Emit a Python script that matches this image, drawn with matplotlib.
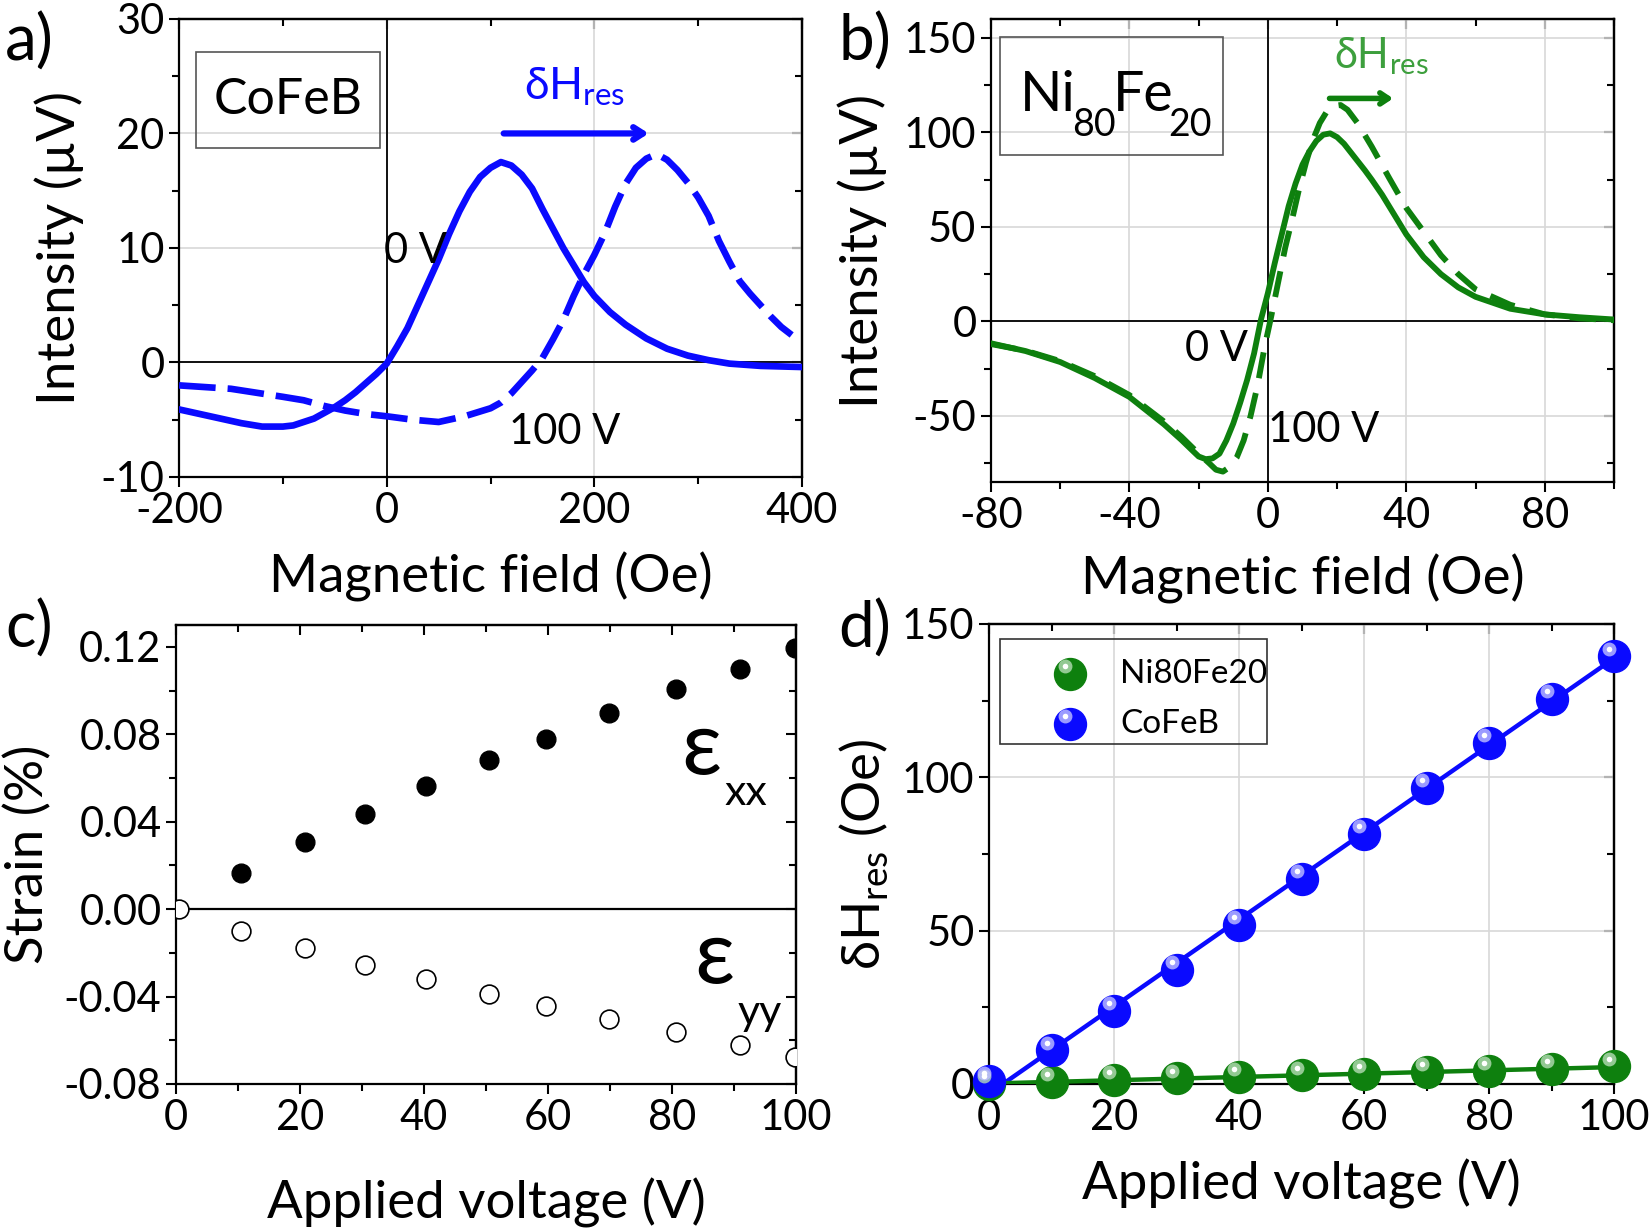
import numpy as np
import matplotlib
matplotlib.use("Agg")
import matplotlib.pyplot as plt
from matplotlib.ticker import MultipleLocator, FormatStrFormatter
from matplotlib.patches import Rectangle
from matplotlib.transforms import offset_copy

plt.rcParams['font.family'] = ['Lato', 'DejaVu Sans']
plt.rcParams['mathtext.fontset'] = 'custom'
plt.rcParams['mathtext.rm'] = 'Lato'
plt.rcParams['mathtext.it'] = 'Lato'
plt.rcParams['axes.linewidth'] = 1.6
plt.rcParams['axes.unicode_minus'] = False

# ---- panel a: CoFeB FMR spectra (field in Oe, intensity in uV)
cofeb_field_0v = [-200, -180, -160, -140, -120, -100, -90, -80, -70, -60, -50, -40, -30, -20, -10,
                  0, 10, 20, 30, 40, 50, 60, 70, 80, 90, 100, 110, 120, 130, 140, 150, 160, 170,
                  180, 190, 200, 215, 230, 250, 270, 290, 310, 330, 360, 400]
cofeb_int_0v = [-4.1, -4.5, -4.9, -5.3, -5.6, -5.6, -5.5, -5.2, -4.9, -4.4, -3.9, -3.3, -2.6, -1.8,
                -1.0, -0.1, 1.4, 3.0, 5.0, 7.0, 9.0, 11.2, 13.2, 14.9, 16.2, 17.0, 17.5, 17.2, 16.4,
                15.2, 13.4, 11.7, 10.0, 8.5, 7.0, 5.8, 4.4, 3.3, 2.1, 1.2, 0.6, 0.2, -0.1, -0.3, -0.4]
cofeb_field_100v = [-200, -150, -100, -80, -60, -40, -20, 0, 25, 50, 75, 100, 110, 120, 130, 140,
                    150, 160, 170, 180, 190, 200, 210, 220, 230, 240, 250, 260, 270, 280, 290,
                    300, 310, 320, 330, 340, 350, 360, 370, 380, 390]
cofeb_int_100v = [-2.0, -2.3, -3.0, -3.3, -3.8, -4.2, -4.5, -4.7, -5.0, -5.2, -4.7, -4.0, -3.5,
                  -2.7, -1.7, -0.7, 0.4, 2.0, 3.7, 5.8, 7.7, 9.4, 11.3, 13.6, 15.6, 17.0, 17.8,
                  18.2, 17.7, 16.8, 15.7, 14.4, 12.8, 10.6, 8.8, 7.1, 6.0, 5.0, 4.0, 3.1, 2.4]

# ---- panel b: Ni80Fe20 FMR spectra
py_field_0v = [-80, -70, -60, -50, -40, -30, -25, -22, -20, -18, -16, -14, -12, -10, -8, -6, -4,
               -2, 0, 2, 4, 6, 8, 10, 12, 14, 16, 18, 20, 22, 25, 28, 30, 33, 36, 40, 45, 50,
               55, 60, 70, 80, 90, 100]
py_int_0v = [-11.6, -15.7, -21.5, -30.0, -40.0, -54.5, -62.7, -68.0, -71.5, -72.9, -72.5, -70.0,
             -63.0, -54.0, -43.0, -31.0, -17.0, 1.0, 15.0, 31.0, 46.0, 61.0, 73.0, 83.0, 90.0,
             95.5, 98.8, 99.5, 97.5, 94.0, 87.0, 80.0, 75.0, 67.0, 58.0, 46.0, 34.0, 25.0,
             18.0, 13.0, 6.7, 3.7, 2.2, 1.0]
py_field_100v = [-80, -70, -60, -50, -40, -30, -25, -20, -17, -15, -13, -11, -9, -7, -5, -3, -1,
                 1, 3, 5, 7, 9, 11, 13, 15, 17, 19, 21, 23, 26, 30, 35, 40, 45, 50, 55, 60, 70,
                 80, 90, 100]
py_int_100v = [-12.0, -15.5, -21.0, -29.0, -39.0, -53.0, -61.0, -70.0, -75.0, -78.5, -79.5, -77.0,
               -72.0, -63.0, -50.0, -34.0, -14.0, 3.0, 21.0, 39.0, 54.0, 70.0, 84.0, 96.0, 105.0,
               111.0, 114.0, 114.5, 112.0, 104.7, 92.5, 76.0, 60.0, 47.5, 35.0, 25.0, 17.0,
               8.8, 3.7, 1.6, 0.6]

# ---- panel c: strain vs applied voltage
strain_volt_xx = [10.4, 20.8, 30.4, 40.3, 50.5, 59.7, 69.8, 80.6, 90.9, 99.8]
strain_xx = [0.0165, 0.0305, 0.0437, 0.0561, 0.0683, 0.0780, 0.0895, 0.1007, 0.1100, 0.1195]
strain_volt_yy = [0.4, 10.4, 20.8, 30.4, 40.3, 50.5, 59.7, 69.8, 80.6, 90.9, 99.8]
strain_yy = [0.0, -0.0101, -0.0176, -0.0257, -0.0321, -0.0389, -0.0442, -0.0505, -0.0561,
             -0.0620, -0.0675]

# ---- panel d: resonance-field shift vs applied voltage
shift_volt = [0, 10, 20, 30, 40, 50, 60, 70, 80, 90, 100]
shift_cofeb = [1.0, 11.0, 23.8, 37.2, 51.8, 66.8, 81.6, 96.6, 111.3, 125.5, 139.5]
shift_py = [0.0, 0.8, 1.3, 1.8, 2.3, 2.8, 3.3, 3.9, 4.3, 4.9, 5.7]

BLUE = '#0a0aff'
GREEN = '#0e800e'
LIGHT_GREEN = '#3d9f3d'

TICK_FS = 30
LABEL_FS = 38


def style_axes(ax, xmaj, xmin, ymaj, ymin):
    ax.xaxis.set_major_locator(MultipleLocator(xmaj))
    ax.xaxis.set_minor_locator(MultipleLocator(xmin))
    ax.yaxis.set_major_locator(MultipleLocator(ymaj))
    ax.yaxis.set_minor_locator(MultipleLocator(ymin))
    ax.tick_params(which='both', direction='out', top=False, right=False,
                   labelsize=TICK_FS, width=1.5)
    ax.tick_params(which='major', length=7)
    ax.tick_params(which='minor', length=5)
    # mirrored ticks pointing inward on top and right
    top = ax.secondary_xaxis('top')
    top.xaxis.set_major_locator(MultipleLocator(xmaj))
    top.xaxis.set_minor_locator(MultipleLocator(xmin))
    top.tick_params(which='both', direction='in', labeltop=False, width=1.5)
    top.tick_params(which='major', length=7)
    top.tick_params(which='minor', length=5)
    right = ax.secondary_yaxis('right')
    right.yaxis.set_major_locator(MultipleLocator(ymaj))
    right.yaxis.set_minor_locator(MultipleLocator(ymin))
    right.tick_params(which='both', direction='in', labelright=False, width=1.5)
    right.tick_params(which='major', length=7)
    right.tick_params(which='minor', length=5)


def ball(ax, x, y, color, shade, transform, clip=False):
    # fake 3D ball marker: base, lighter spot, white glint
    ax.plot(x, y, 'o', ms=23, color=color, mec=color, zorder=4, clip_on=clip,
            transform=transform)
    tr = offset_copy(transform, fig=ax.figure, x=-3.5, y=5.5, units='points')
    ax.plot(x, y, 'o', ms=10, color=shade, mec='none', alpha=0.8, transform=tr,
            zorder=5, clip_on=clip)
    ax.plot(x, y, 'o', ms=4, color='white', mec='none', transform=tr,
            zorder=6, clip_on=clip)


fig = plt.figure(figsize=(16.5, 12.29), dpi=100)

# ---------------- a) CoFeB
ax_a = fig.add_axes([0.1085, 0.6119, 0.3776, 0.3727])
ax_a.grid(True, which='major', color='#d8d8d8', lw=1.2)
ax_a.axhline(0, color='black', lw=1.3, zorder=2)
ax_a.axvline(0, color='black', lw=1.3, zorder=2)
ax_a.plot(cofeb_field_0v, cofeb_int_0v, color=BLUE, lw=4.8, zorder=3)
ax_a.plot(cofeb_field_100v, cofeb_int_100v, color=BLUE, lw=4.8, dashes=(5.5, 1.8), zorder=3)
ax_a.set_xlim(-200, 400)
ax_a.set_ylim(-10, 30)
style_axes(ax_a, 200, 100, 10, 5)
ax_a.set_xlabel('Magnetic field (Oe)', fontsize=LABEL_FS, labelpad=16)
ax_a.set_ylabel('Intensity (µV)', fontsize=LABEL_FS, labelpad=12)
ax_a.add_patch(Rectangle((0.028, 0.718), 0.294, 0.209, transform=ax_a.transAxes,
                         fill=False, ec='#555555', lw=1.2, zorder=5))
ax_a.text(0.175, 0.822, 'CoFeB', transform=ax_a.transAxes, fontsize=36,
          ha='center', va='center', zorder=6)
ax_a.text(132, 23, r'δH$_{\mathrm{res}}$', color=BLUE, fontsize=32)
ax_a.annotate('', xy=(255, 20), xytext=(110, 20),
              arrowprops=dict(arrowstyle='->,head_length=0.7,head_width=0.45',
                              color=BLUE, lw=4.5))
ax_a.text(-3, 8.7, '0 V', fontsize=TICK_FS)
ax_a.text(118, -7.1, '100 V', fontsize=TICK_FS)

# ---------------- b) Ni80Fe20
ax_b = fig.add_axes([0.6006, 0.6078, 0.3776, 0.3767])
ax_b.grid(True, which='major', color='#d8d8d8', lw=1.2)
ax_b.axhline(0, color='black', lw=1.3, zorder=2)
ax_b.axvline(0, color='black', lw=1.3, zorder=2)
ax_b.plot(py_field_0v, py_int_0v, color=GREEN, lw=4.2, zorder=3)
ax_b.plot(py_field_100v, py_int_100v, color=GREEN, lw=4.2, dashes=(4.5, 2.6), zorder=3)
ax_b.set_xlim(-80, 100)
ax_b.set_ylim(-85, 160)
style_axes(ax_b, 40, 20, 50, 25)
ax_b.set_xlabel('Magnetic field (Oe)', fontsize=LABEL_FS, labelpad=14)
ax_b.set_ylabel('Intensity (µV)', fontsize=LABEL_FS, labelpad=12)
ax_b.add_patch(Rectangle((0.015, 0.707), 0.358, 0.254, transform=ax_b.transAxes,
                         fill=False, ec='#555555', lw=1.2, zorder=5))
for tx, ty, s, fs in [(0.047, 0.802, 'Ni', 40), (0.130, 0.748, '80', 27),
                      (0.196, 0.802, 'Fe', 40), (0.285, 0.748, '20', 27)]:
    ax_b.text(tx, ty, s, transform=ax_b.transAxes, fontsize=fs, va='baseline', zorder=6)
ax_b.text(19, 134, r'δH$_{\mathrm{res}}$', color=LIGHT_GREEN, fontsize=30)
ax_b.annotate('', xy=(37, 118), xytext=(17, 118),
              arrowprops=dict(arrowstyle='->,head_length=0.6,head_width=0.4',
                              color=GREEN, lw=4))
ax_b.text(-24, -21, '0 V', fontsize=TICK_FS)
ax_b.text(0, -64, '100 V', fontsize=TICK_FS)

# ---------------- c) strain
ax_c = fig.add_axes([0.1067, 0.118, 0.3758, 0.3735])
ax_c.axhline(0, color='black', lw=1.6, zorder=2)
ax_c.plot(strain_volt_xx, strain_xx, 'o', ms=13.5, color='black', zorder=3)
ax_c.plot(strain_volt_yy, strain_yy, 'o', ms=13.5, mfc='white', mec='black', mew=1.2, zorder=3)
ax_c.set_xlim(0, 100)
ax_c.set_ylim(-0.08, 0.13)
style_axes(ax_c, 20, 10, 0.04, 0.02)
ax_c.yaxis.set_major_formatter(FormatStrFormatter('%.2f'))
ax_c.set_xlabel('Applied voltage (V)', fontsize=LABEL_FS, labelpad=30)
ax_c.set_ylabel('Strain (%)', fontsize=LABEL_FS, labelpad=8)
ax_c.text(81.5, 0.062, 'ε', fontsize=64)
ax_c.text(88.5, 0.0475, 'xx', fontsize=31)
ax_c.text(83.5, -0.034, 'ε', fontsize=64)
ax_c.text(90.5, -0.053, 'yy', fontsize=31)

# ---------------- d) resonance shift
ax_d = fig.add_axes([0.5994, 0.118, 0.3788, 0.3743])
ax_d.grid(True, which='major', color='#d8d8d8', lw=1.2)
fit_c = np.polyfit(shift_volt, shift_cofeb, 1)
fit_p = np.polyfit(shift_volt, shift_py, 1)
xfit = np.array([shift_volt[0], shift_volt[-1]])
ax_d.plot(xfit, np.polyval(fit_c, xfit), color=BLUE, lw=3.2, zorder=3)
ax_d.plot(xfit, np.polyval(fit_p, xfit), color=GREEN, lw=3.2, zorder=3)
ball(ax_d, shift_volt, shift_py, GREEN, '#b5dcb5', ax_d.transData)
ball(ax_d, shift_volt, shift_cofeb, BLUE, '#c0c0ff', ax_d.transData)
ax_d.set_xlim(0, 100)
ax_d.set_ylim(0, 150)
style_axes(ax_d, 20, 10, 50, 25)
ax_d.set_xlabel('Applied voltage (V)', fontsize=LABEL_FS, labelpad=16)
ax_d.set_ylabel(r'δH$_{\mathrm{res}}$ (Oe)', fontsize=LABEL_FS, labelpad=8)
# legend drawn by hand to mimic the boxed key
ax_d.add_patch(Rectangle((0.017, 0.739), 0.427, 0.229, transform=ax_d.transAxes,
                         fill=False, ec='#333333', lw=1.2, zorder=7))
for yy, col, shade, name in [(0.892, GREEN, '#b5dcb5', 'Ni80Fe20'),
                             (0.783, BLUE, '#c0c0ff', 'CoFeB')]:
    ball(ax_d, [0.13], [yy], col, shade, ax_d.transAxes)
    ax_d.text(0.21, yy, name, transform=ax_d.transAxes, fontsize=24,
              va='center', zorder=8)

# panel letters
for lx, ly, letter in [(0.003, 0.99, 'a)'), (0.508, 0.99, 'b)'),
                       (0.003, 0.512, 'c)'), (0.508, 0.512, 'd)')]:
    fig.text(lx, ly, letter, fontsize=46, va='top')

fig.savefig('out.png', dpi=100)
